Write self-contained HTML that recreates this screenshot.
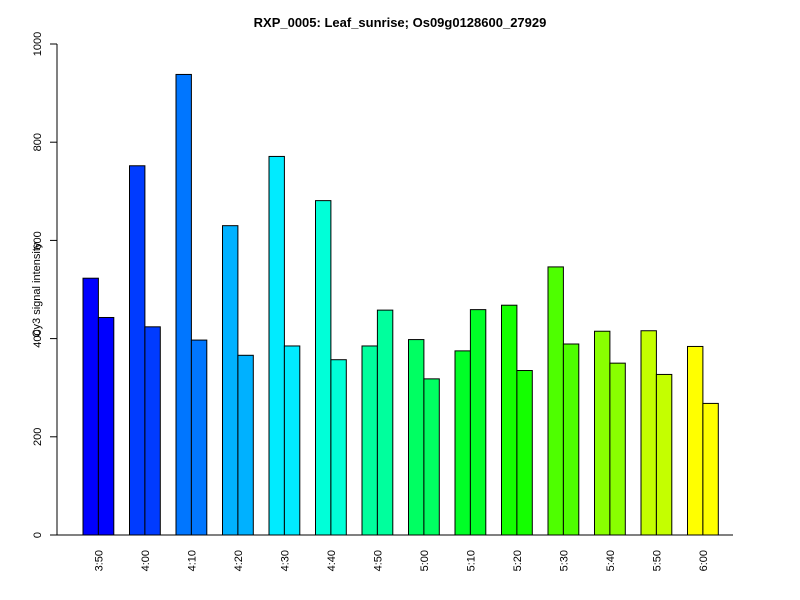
<!DOCTYPE html>
<html><head><meta charset="utf-8"><style>
body{margin:0;background:#fff}
svg{display:block;font-family:"Liberation Sans",sans-serif}
</style></head><body>
<svg id="chart" width="800" height="600">
<text x="400" y="27" text-anchor="middle" font-weight="bold" font-size="13">RXP_0005: Leaf_sunrise; Os09g0128600_27929</text>
<text transform="translate(40,290) rotate(-90)" text-anchor="middle" font-size="11">Cy3 signal intensity</text>
<g id="bars"></g><g id="axes"></g>
</svg>
<script>
const categories=["3:50","4:00","4:10","4:20","4:30","4:40","4:50","5:00","5:10","5:20","5:30","5:40","5:50","6:00"];
const series1=[523,752,938,630,771,681,385,398,375,468,546,415,416,384];
const series2=[443,424,397,366,385,357,458,318,459,335,389,350,327,268];
const yTicks=[0,200,400,600,800,1000];
const NS="http://www.w3.org/2000/svg";
const y=v=>535-v*0.491;
const x=i=>83+i*46.5;
const bw=15.4;
const bars=document.getElementById('bars'),axes=document.getElementById('axes');
function mk(tag,attrs,parent){const e=document.createElementNS(NS,tag);for(const k in attrs)e.setAttribute(k,attrs[k]);parent.appendChild(e);return e;}
categories.forEach((c,i)=>{
  const hue=240-i*180/13,col=`hsl(${hue},100%,50%)`;
  [series1,series2].forEach((s,j)=>{
    const r=mk('rect',{x:x(i)+j*bw,y:y(s[i]),width:bw,height:535-y(s[i]),fill:col,stroke:'#000','stroke-width':1},bars);
    
    
  });
  const t=mk('text',{transform:`translate(${x(i)+bw+4},550) rotate(-90)`,'text-anchor':'end','font-size':11},axes);
  t.textContent=c;
  
  
});
const xl=mk('line',{x1:50,x2:733,y1:535,y2:535,stroke:'#000'},axes);


const yl=mk('line',{x1:57,x2:57,y1:y(0),y2:y(1000),stroke:'#000'},axes);


yTicks.forEach(v=>{
  const tk=mk('line',{x1:50,x2:57,y1:y(v),y2:y(v),stroke:'#000'},axes);
  
  
  const t=mk('text',{transform:`translate(41,${y(v)}) rotate(-90)`,'text-anchor':'middle','font-size':11},axes);
  t.textContent=v;
  
  
});
</script>
</body></html>
